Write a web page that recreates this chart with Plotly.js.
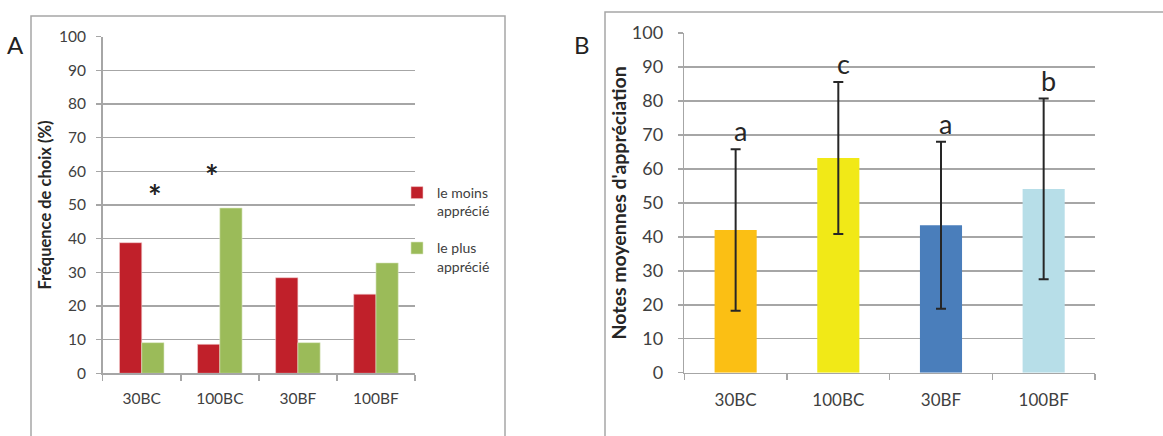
<!DOCTYPE html>
<html>
<head>
<meta charset="utf-8">
<script src="https://cdn.plot.ly/plotly-3.0.1.min.js"></script>
<style>html,body{margin:0;padding:0;background:#fff;}#chart{width:1163px;height:436px;}</style>
</head>
<body>
<div id="chart"></div>
<script>
// Panel A data
const categories = ["30BC", "100BC", "30BF", "100BF"];
const seriesNames = ["le moins<br>apprécié", "le plus<br>apprécié"];
const moinsApprecie = [38.8, 8.6, 28.4, 23.5];
const plusApprecie = [9.1, 49.1, 9.1, 32.8];
// Panel B data
const notesMoyennes = [42.0, 63.2, 43.4, 54.1];
const ecartTypes = [23.8, 22.4, 24.6, 26.6];
const lettres = ["a", "c", "a", "b"];
const yTicks = [0, 10, 20, 30, 40, 50, 60, 70, 80, 90, 100];

const W = 1163, H = 436;
const px = v => v / W;
const py = v => 1 - v / H;
const FONT = "Lato, 'Open Sans', sans-serif";
const GRID = "#a6a6a6";
const TXT = "#404040";

const traces = [
  {type: "bar", x: categories, y: moinsApprecie, name: seriesNames[0], xaxis: "x", yaxis: "y",
   marker: {color: "#c0202a", line: {color: "#f2c9cb", width: 0.6}}, legendgroup: "g1"},
  {type: "bar", x: categories, y: plusApprecie, name: seriesNames[1], xaxis: "x", yaxis: "y",
   marker: {color: "#9bbb59", line: {color: "#dbe8c4", width: 0.6}}, legendgroup: "g2"},
  {type: "bar", x: categories, y: notesMoyennes, xaxis: "x2", yaxis: "y2", showlegend: false, width: 0.41,
   marker: {color: ["#fbbf14", "#f1e917", "#4a7ebb", "#b7dee8"]},
   error_y: {type: "data", array: ecartTypes, visible: true, color: "#262626", thickness: 2, width: 5}}
];

const axCommon = {
  showline: true, linecolor: GRID, linewidth: 1.5, fixedrange: true
};

const annotations = [
  {text: "A", xref: "paper", yref: "paper", x: px(5), y: py(28), xanchor: "left", yanchor: "top",
   showarrow: false, font: {family: FONT, size: 24, color: "#222"}},
  {text: "B", xref: "paper", yref: "paper", x: px(572), y: py(28), xanchor: "left", yanchor: "top",
   showarrow: false, font: {family: FONT, size: 24, color: "#222"}},
  {text: "<b>*</b>", xref: "x", yref: "y", x: categories[0], y: 52.5, xshift: 13, showarrow: false,
   font: {family: FONT, size: 32, color: "#222"}},
  {text: "<b>*</b>", xref: "x", yref: "y", x: categories[1], y: 58.6, xshift: -8, showarrow: false,
   font: {family: FONT, size: 32, color: "#222"}}
];
lettres.forEach((l, i) => {
  annotations.push({text: l, xref: "x2", yref: "y2", x: categories[i], y: notesMoyennes[i] + ecartTypes[i],
    yanchor: "bottom", yshift: 0, xshift: 5, showarrow: false,
    font: {family: FONT, size: 27, color: "#262626"}});
});

const layout = {
  width: W, height: H,
  margin: {l: 0, r: 0, t: 0, b: 0},
  paper_bgcolor: "#fff", plot_bgcolor: "rgba(0,0,0,0)",
  barmode: "group",
  bargap: 0.43, bargroupgap: 0,
  showlegend: true,
  legend: {x: px(397), y: py(177), xanchor: "left", yanchor: "top", bgcolor: "rgba(0,0,0,0)",
    font: {family: FONT, size: 14, color: TXT}, valign: "top", traceorder: "grouped", tracegroupgap: 16},
  xaxis: Object.assign({}, axCommon, {domain: [px(102.7), px(415)], type: "category",
    tickson: "boundaries", ticks: "outside", ticklen: 6, tickcolor: GRID, tickwidth: 1.5,
    ticklabelstandoff: 11,
    tickfont: {family: FONT, size: 15.5, color: TXT}, anchor: "y"}),
  yaxis: Object.assign({}, axCommon, {domain: [py(373.3), py(36.7)], range: [0, 100],
    tickvals: yTicks, ticks: "outside", ticklen: 5, tickcolor: GRID, tickwidth: 1.5,
    ticklabelstandoff: 7,
    showgrid: true, gridcolor: GRID, gridwidth: 1.5, zeroline: false,
    tickfont: {family: FONT, size: 15.5, color: TXT}, anchor: "x",
    title: {text: "<b>Fréquence de choix (%)</b>", font: {family: FONT, size: 16.5, color: "#262626"}, standoff: 3}}),
  xaxis2: Object.assign({}, axCommon, {domain: [px(684.3), px(1095)], type: "category",
    tickson: "boundaries", ticks: "outside", ticklen: 6, tickcolor: GRID, tickwidth: 1.5,
    ticklabelstandoff: 11,
    tickfont: {family: FONT, size: 17, color: TXT}, anchor: "y2"}),
  yaxis2: Object.assign({}, axCommon, {domain: [py(372.7), py(33)], range: [0, 100],
    tickvals: yTicks, ticks: "outside", ticklen: 5, tickcolor: GRID, tickwidth: 1.5,
    ticklabelstandoff: 11,
    showgrid: true, gridcolor: GRID, gridwidth: 1.5, zeroline: false,
    tickfont: {family: FONT, size: 18, color: TXT}, anchor: "x2",
    title: {text: "<b>Notes moyennes d'appréciation</b>", font: {family: FONT, size: 19.5, color: "#262626"}, standoff: 0}}),
  shapes: [
    {type: "rect", xref: "paper", yref: "paper", x0: px(31), x1: px(505), y0: -0.2, y1: py(16),
     line: {color: "#a6a6a6", width: 1.5}, fillcolor: "rgba(0,0,0,0)", layer: "below"},
    {type: "rect", xref: "paper", yref: "paper", x0: px(605), x1: 1.2, y0: -0.2, y1: py(12),
     line: {color: "#a6a6a6", width: 1.5}, fillcolor: "rgba(0,0,0,0)", layer: "below"}
  ],
  annotations: annotations
};

Plotly.newPlot("chart", traces, layout, {displayModeBar: false, staticPlot: true});
</script>
</body>
</html>
